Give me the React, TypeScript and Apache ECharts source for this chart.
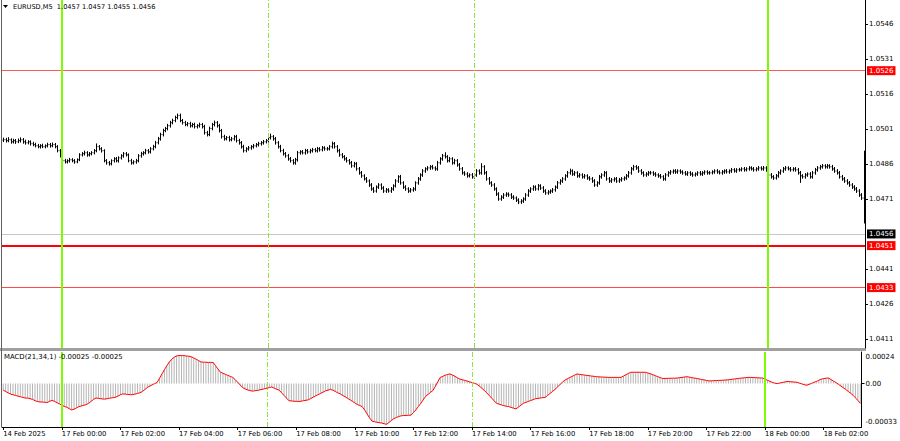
import React, { useEffect, useRef } from 'react';
import * as echarts from 'echarts';

// Prices are stored in points (0.00001) above BASE
const BASE = 1.04;
const POINT = 0.00001;
const FIRST_OPEN = 962;

const CLOSE = [
  964,960,964,955,960,955,960,964,955,951,955,947,
  943,938,934,938,934,938,943,938,943,934,917,895,
  874,869,874,878,874,869,878,899,904,908,899,904,
  908,917,934,925,917,874,865,861,874,882,874,886,
  895,904,899,874,865,869,874,895,904,908,917,912,
  925,934,951,968,986,1003,1012,1024,1037,1046,1059,1068,
  1046,1037,1029,1033,1024,1029,1020,1024,1029,1020,994,986,
  1012,1029,1037,1024,1003,977,968,973,964,968,977,960,
  951,934,917,925,929,934,938,943,947,951,955,960,
  973,977,968,951,934,917,904,895,882,874,865,878,
  908,912,908,917,912,917,921,917,925,921,929,925,
  925,934,947,934,917,899,891,882,874,865,852,861,
  839,822,809,796,787,770,753,744,761,770,757,744,
  749,744,753,766,787,805,779,761,753,744,749,753,
  779,796,813,830,839,843,848,843,839,865,882,895,
  891,874,882,865,874,856,839,822,817,809,813,805,
  813,830,822,848,822,796,779,770,753,731,710,718,
  727,731,727,718,714,705,697,701,710,727,744,753,
  761,753,766,757,744,736,740,744,749,761,779,787,
  796,809,822,830,817,822,809,813,805,809,800,796,
  787,770,779,805,813,822,796,787,792,796,787,792,
  796,800,809,822,839,848,843,830,822,813,817,822,
  822,817,813,809,805,796,813,822,826,830,826,830,
  826,822,817,822,817,813,817,822,817,822,826,822,
  822,826,830,826,822,826,830,826,830,835,830,835,
  835,839,835,839,843,839,835,839,843,839,843,835,
  813,805,800,809,822,830,839,843,839,835,839,835,
  822,809,805,813,817,805,822,835,843,848,852,848,
  852,848,839,830,822,805,796,787,779,770,761,753,
  744,727,714,606
];

const HIGH = [
  973,972,975,970,968,967,969,974,971,964,962,961,
  955,951,946,945,947,944,951,950,952,950,941,924,
  903,882,880,886,885,881,884,906,911,917,915,911,
  915,924,948,941,932,923,881,873,880,889,890,893,
  902,911,911,905,882,876,882,902,912,915,925,924,
  932,942,959,976,994,1011,1019,1032,1045,1054,1067,1076,
  1076,1053,1045,1040,1041,1036,1037,1031,1037,1036,1028,1002,
  1020,1036,1046,1044,1032,1010,985,980,981,976,984,985,
  968,958,942,932,937,941,946,950,955,958,963,967,
  981,990,984,976,958,942,925,911,903,890,881,886,
  916,919,920,925,924,925,929,928,933,932,937,936,
  933,941,956,954,941,925,907,898,890,881,873,869,
  868,847,830,816,804,794,778,761,768,778,777,765,
  757,756,761,773,795,812,813,786,769,760,757,761,
  786,804,820,838,846,851,855,856,850,873,889,903,
  910,898,890,889,882,881,864,847,829,825,820,821,
  821,838,837,863,855,830,804,786,778,760,739,726,
  735,739,738,735,726,721,713,709,717,735,752,760,
  769,768,774,773,765,752,748,751,757,768,787,795,
  804,816,830,840,837,830,829,821,820,817,816,808,
  804,795,786,813,820,830,829,804,800,803,804,800,
  804,807,817,830,847,856,855,851,838,829,825,830,
  830,829,825,820,817,812,821,829,834,837,838,837,
  837,833,830,829,829,825,824,829,830,829,833,833,
  830,833,837,838,833,834,837,838,837,843,842,842,
  843,846,847,846,851,850,847,846,851,850,851,850,
  843,821,812,817,830,837,847,851,850,847,846,847,
  843,830,816,821,824,825,830,843,851,856,860,859,
  860,859,856,847,838,830,813,804,795,787,778,769,
  761,752,735,917
];

const LOW = [
  954,952,953,947,948,946,949,952,947,943,944,939,
  936,931,927,926,928,927,931,930,932,927,910,888,
  866,862,862,866,867,861,863,872,892,896,891,892,
  897,901,910,918,909,867,857,853,854,866,867,866,
  879,887,892,867,857,858,861,867,887,896,901,904,
  905,918,927,944,960,978,996,1004,1016,1030,1039,1051,
  1039,1029,1022,1021,1016,1017,1012,1012,1016,1012,986,978,
  979,1004,1021,1016,995,969,960,961,956,957,960,952,
  943,926,909,910,917,921,926,931,935,939,943,948,
  952,965,960,943,926,910,896,887,874,866,857,857,
  870,900,901,900,904,905,909,910,909,913,914,917,
  917,918,926,926,909,891,884,874,866,857,844,845,
  831,814,801,789,779,762,745,736,737,753,749,736,
  736,737,736,745,759,779,771,753,745,736,737,741,
  745,771,788,805,822,831,835,836,831,831,857,874,
  883,866,867,857,858,848,831,814,809,801,802,797,
  797,805,814,814,814,788,771,762,745,723,702,702,
  710,719,719,710,706,697,688,689,693,702,719,736,
  745,745,746,749,736,728,728,732,736,741,753,771,
  779,788,801,814,809,809,801,801,797,797,792,788,
  779,762,762,771,797,805,788,779,779,784,779,779,
  784,788,792,801,814,831,835,822,814,805,805,809,
  814,809,805,801,797,788,788,805,814,818,818,818,
  818,814,810,809,809,805,806,809,810,809,814,814,
  814,815,818,818,815,814,818,819,818,822,823,822,
  827,828,827,828,831,832,827,828,831,832,831,827,
  805,797,792,793,801,814,822,831,832,827,828,827,
  814,779,797,797,805,797,797,814,827,835,840,840,
  840,840,831,822,814,797,788,779,771,762,753,745,
  736,719,706,606
];

// MACD(21,34,1) main values, in units of 0.00001
const MACD = [
  -5,-6,-7,-8,-8.5,-9,-9.5,-10,-10.5,-11,-11,-11.5,
  -12,-13,-13.6,-14,-14,-14.2,-14.4,-13.5,-12.8,-13.5,-14.5,-15.4,
  -16.5,-17.3,-18,-19,-20,-19.5,-18.5,-17.5,-17,-16.5,-16,-15,
  -13.5,-12,-11,-11.2,-11.5,-11.8,-11.7,-11.3,-11,-10.7,-10.4,-9.5,
  -8.5,-7.8,-8,-8.3,-8.4,-8.4,-8,-7.5,-7,-6,-4.5,-3,
  -2,-1,0,0.8,4,7.3,10.5,13.5,16.4,18.5,20,21,
  21.3,21.3,21.2,21,20.8,20.4,19.5,18.5,17.5,16.4,16.3,16.2,
  16.1,16.1,16,13.5,11,8.6,7.8,7,6.2,5.5,4.7,3,
  1,-1,-3,-4,-4.8,-5.3,-5.7,-5.5,-5.2,-4.8,-4.4,-4,
  -3.5,-3,-2.6,-3.5,-4.3,-5,-7,-9,-11,-13,-13.2,-13.4,
  -13.5,-13.6,-13.4,-13,-12.7,-12.3,-11.3,-10.3,-9.3,-8.4,-7.5,-6.5,
  -5.5,-5,-4.4,-5,-6,-7,-7.8,-9,-10,-11.2,-12.3,-13.5,
  -14.7,-15.9,-16.7,-17.5,-20,-23,-26,-28.5,-29,-29.4,-29.7,-30,
  -30.5,-31,-29.5,-28,-26.6,-25.8,-25,-24.5,-24.3,-24.2,-24.1,-24,
  -22,-20,-17.5,-15,-12.4,-9.7,-8.2,-6.7,-5.2,-2,1.5,4.7,
  5.5,6.3,7,7.3,6.5,5.5,4.4,3.4,2.9,2.4,1.9,1.3,
  0.8,0.2,-0.5,-2,-3.5,-5.2,-7,-9,-11,-13,-15,-15.6,
  -16.2,-16.8,-17.2,-17.5,-18.1,-18.7,-19.3,-17.9,-16.4,-15,-14.3,-13.6,
  -12.9,-12.2,-11.5,-11.2,-11,-10.7,-10.4,-8.9,-7.4,-5.9,-4.4,-2.6,
  -0.8,1,2.6,3.6,4.6,5.5,6.4,7.3,7,6.7,6.5,6.2,
  6,5.7,5.5,5.2,5.1,5,4.9,4.8,4.7,4.7,4.7,4.7,
  4.7,4.7,5.7,6.7,7.7,8.6,8.6,8.6,8.6,8.6,8.6,8.6,
  8,7.4,6.8,6,5.3,4.6,3.9,3.9,4,4,4.1,4.1,
  4.2,4.5,4.7,5,5.2,4.9,4.5,4.2,3.9,3.5,3.1,2.8,
  2.4,2,2.1,2.2,2.3,2.4,2.5,2.6,2.7,2.9,3.1,3.4,
  3.6,3.9,4.1,4.3,4.5,4.7,4.7,4.6,4.5,4.4,4.3,4.2,
  3.4,2.5,1.7,0.9,0.3,0,0.4,0.8,1.2,1.6,1.5,1.3,
  1.2,1,0.4,-0.2,-0.8,-1.3,-0.6,0.1,0.9,1.6,2.5,3.4,
  3.8,4.1,4.2,3,1.9,0.8,-0.5,-1.8,-3.1,-4.4,-5.9,-7.3,
  -8.8,-10.8,-12.8,-15
];

const TIME_LABELS = [
  '14 Feb 2025', '17 Feb 00:00', '17 Feb 02:00', '17 Feb 04:00', '17 Feb 06:00',
  '17 Feb 08:00', '17 Feb 10:00', '17 Feb 12:00', '17 Feb 14:00', '17 Feb 16:00',
  '17 Feb 18:00', '17 Feb 20:00', '17 Feb 22:00', '18 Feb 00:00', '18 Feb 02:00'
];
const LABEL_STEP = 24; // bars between time labels (2 hours of M5)

const PRICE_TICKS = [1.0411, 1.0426, 1.0441, 1.0471, 1.0486, 1.0501, 1.0516, 1.0531, 1.0546];
const PRICE_MIN = 1.04071;
const PRICE_MAX = 1.05563;
const RED_LEVELS = [1.0526, 1.0451, 1.0433];
const BID = 1.0456;

const MACD_MIN = -0.00033;
const MACD_MAX = 0.00024;
const MACD_TICKS = [-0.00033, 0, 0.00024];

const DAY_LINES = [24, 312];      // 17 Feb 00:00, 18 Feb 00:00
const SESSION_LINES = [108, 192]; // 17 Feb 07:00, 17 Feb 14:00

const TITLE = 'EURUSD,M5  1.0457 1.0457 1.0455 1.0456';
const MACD_TITLE = 'MACD(21,34,1) -0.00025 -0.00025';

const FONT = 'DejaVu Sans';

export default function App() {
  const ref = useRef<HTMLDivElement>(null);

  useEffect(() => {
    if (!ref.current) return;
    const chart = echarts.init(ref.current, undefined, { renderer: 'svg' });
    const N = CLOSE.length;
    const toPrice = (p: number) => +(BASE + p * POINT).toFixed(5);
    const cats = Array.from({ length: N }, (_, i) => String(i));
    const bars = CLOSE.map((c, i) => [
      i,
      toPrice(i === 0 ? FIRST_OPEN : CLOSE[i - 1]),
      toPrice(HIGH[i]),
      toPrice(LOW[i]),
      toPrice(c),
    ]);
    const macd = MACD.map((v) => +(v * POINT).toFixed(6));

    const vLines = () => [
      ...DAY_LINES.map((x) => ({ xAxis: x, lineStyle: { color: '#7cfc00', width: 2, type: 'solid' } })),
      ...SESSION_LINES.map((x) => ({ xAxis: x, lineStyle: { color: '#8ee53f', width: 1, type: [5, 2, 1, 2] } })),
    ];

    const priceLabel = (bg: string) => ({
      show: true,
      position: 'end',
      distance: 2,
      color: '#fff',
      backgroundColor: bg,
      fontFamily: FONT,
      fontSize: 7,
      lineHeight: 8,
      padding: [1, 2, 0, 2],
      formatter: (p: any) => Number(p.value).toFixed(4),
    });

    const option: any = {
      animation: false,
      backgroundColor: '#ffffff',
      grid: [
        { left: 2, right: 35, top: 0, height: 348 },
        { left: 2, right: 35, top: 352, height: 75 },
      ],
      xAxis: [
        {
          type: 'category', gridIndex: 0, data: cats, boundaryGap: true,
          axisLine: { show: false, onZero: false }, axisTick: { show: false }, axisLabel: { show: false },
          splitLine: { show: false },
        },
        {
          type: 'category', gridIndex: 1, data: cats, boundaryGap: true,
          axisLine: { show: true, onZero: false, lineStyle: { color: '#000', width: 1 } },
          axisTick: {
            show: true, alignWithLabel: true, length: 3, inside: false,
            interval: (i: number) => i % LABEL_STEP === 0,
            lineStyle: { color: '#000' },
          },
          axisLabel: {
            show: true, align: 'left', margin: 3, color: '#000',
            fontFamily: FONT, fontSize: 6.8,
            interval: (i: number) => i % LABEL_STEP === 0,
            formatter: (_v: string, i: number) => TIME_LABELS[i / LABEL_STEP] ?? '',
          },
          splitLine: { show: false },
        },
      ],
      yAxis: [
        {
          type: 'value', gridIndex: 0, position: 'right', min: PRICE_MIN, max: PRICE_MAX,
          axisLine: { show: true, lineStyle: { color: '#000', width: 1 } },
          axisTick: { show: true, inside: false, length: 3, customValues: PRICE_TICKS, lineStyle: { color: '#000' } },
          axisLabel: {
            show: true, margin: 4, color: '#000', fontFamily: FONT, fontSize: 7,
            customValues: PRICE_TICKS,
            formatter: (v: number) => v.toFixed(4),
          },
          splitLine: { show: false },
        },
        {
          type: 'value', gridIndex: 1, position: 'right', min: MACD_MIN, max: MACD_MAX,
          axisLine: { show: true, lineStyle: { color: '#000', width: 1 } },
          axisTick: { show: true, inside: false, length: 3, customValues: [0], lineStyle: { color: '#000' } },
          axisLabel: {
            show: true, margin: 4, color: '#000', fontFamily: FONT, fontSize: 7,
            customValues: MACD_TICKS,
            formatter: (v: number) =>
              v === 0 ? '0.00' : v > 0 ? `{t|${v.toFixed(5)}}` : `{b|${v.toFixed(5)}}`,
            rich: {
              t: { fontFamily: FONT, fontSize: 7, color: '#000', padding: [10, 0, 0, 0] },
              b: { fontFamily: FONT, fontSize: 7, color: '#000', padding: [0, 0, 10, 0] },
            },
          },
          splitLine: { show: false },
        },
      ],
      series: [
        {
          type: 'custom',
          name: 'EURUSD',
          xAxisIndex: 0, yAxisIndex: 0,
          data: bars,
          encode: { x: 0, y: [1, 2, 3, 4] },
          z: 3,
          renderItem: (_params: any, api: any) => {
            const i = api.value(0);
            const o = api.coord([i, api.value(1)]);
            const h = api.coord([i, api.value(2)]);
            const l = api.coord([i, api.value(3)]);
            const c = api.coord([i, api.value(4)]);
            const x = Math.round(h[0]) + 0.5;
            const top = Math.min(h[1], l[1], o[1], c[1]);
            const bot = Math.max(h[1], l[1], o[1], c[1], top + 1);
            const st = { stroke: '#000', lineWidth: 1 };
            return {
              type: 'group',
              children: [
                { type: 'line', shape: { x1: x, y1: top, x2: x, y2: bot }, style: st },
                { type: 'line', shape: { x1: x - 1, y1: o[1], x2: x, y2: o[1] }, style: st },
                { type: 'line', shape: { x1: x, y1: c[1], x2: x + 1, y2: c[1] }, style: st },
              ],
            };
          },
        },
        {
          type: 'line',
          name: 'levels',
          xAxisIndex: 0, yAxisIndex: 0,
          data: CLOSE.map(toPrice),
          symbol: 'none', silent: true,
          lineStyle: { opacity: 0, width: 0 },
          z: 4,
          markLine: {
            silent: true, symbol: ['none', 'none'], animation: false, precision: 5,
            data: [
              {
                yAxis: RED_LEVELS[0],
                lineStyle: { color: '#ff5a5a', width: 1, type: 'solid' },
                label: priceLabel('#ff0000'),
              },
              {
                yAxis: RED_LEVELS[1],
                lineStyle: { color: '#ff0000', width: 2, type: 'solid' },
                label: priceLabel('#ff0000'),
              },
              {
                yAxis: RED_LEVELS[2],
                lineStyle: { color: '#ff4a4a', width: 1, type: 'solid' },
                label: priceLabel('#ff0000'),
              },
              {
                yAxis: BID,
                lineStyle: { color: '#c8c8c8', width: 1, type: 'solid' },
                label: priceLabel('#000000'),
              },
              ...vLines().map((d) => ({ ...d, label: { show: false } })),
            ],
          },
        },
        {
          type: 'bar',
          name: 'MACD',
          xAxisIndex: 1, yAxisIndex: 1,
          data: macd,
          barWidth: 1,
          itemStyle: { color: '#b4b4b4' },
          silent: true,
          z: 2,
          markLine: {
            silent: true, symbol: ['none', 'none'], animation: false,
            label: { show: false },
            data: vLines(),
          },
        },
        {
          type: 'line',
          name: 'Signal',
          xAxisIndex: 1, yAxisIndex: 1,
          data: macd,
          symbol: 'none',
          silent: true,
          lineStyle: { color: '#ff0000', width: 1 },
          z: 3,
        },
      ],
      graphic: [
        { type: 'rect', z: 0, shape: { x: 0, y: 348, width: 866, height: 3 }, style: { fill: '#a0a0a0' } },
        { type: 'line', z: 10, shape: { x1: 1.5, y1: 0, x2: 1.5, y2: 427 }, style: { stroke: '#606060', lineWidth: 1 } },
        { type: 'polygon', z: 20, shape: { points: [[3, 5], [8, 5], [5.5, 8]] }, style: { fill: '#000' } },
        {
          type: 'text', z: 20, x: 13, y: 7,
          style: { text: TITLE, fontFamily: FONT, fontSize: 6.6, fill: '#000', verticalAlign: 'middle' },
        },
        {
          type: 'text', z: 20, x: 4, y: 357,
          style: { text: MACD_TITLE, fontFamily: FONT, fontSize: 6.9, fill: '#000', verticalAlign: 'middle' },
        },
      ],
    };

    chart.setOption(option);
    return () => chart.dispose();
  }, []);

  return (
    <div
      ref={ref}
      style={{ position: 'fixed', left: 0, top: 0, width: 900, height: 441, background: '#fff' }}
    />
  );
}
